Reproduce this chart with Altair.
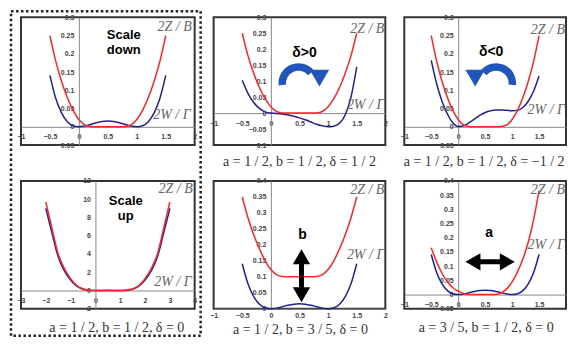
import altair as alt
import pandas as pd

# ---------------- data ----------------
X_A = [-0.5, -0.4, -0.3, -0.2, -0.1, 0.0, 0.1, 0.2, 0.3, 0.4, 0.5,
       0.6, 0.7, 0.8, 0.9, 1.0, 1.1, 1.2, 1.3, 1.4, 1.5]
X_UP = [-2.0, -1.75, -1.5, -1.25, -1.0, -0.75, -0.5, -0.25, 0.0, 0.25, 0.5,
        0.75, 1.0, 1.25, 1.5, 1.75, 2.0, 2.25, 2.5, 2.75, 3.0]

Z_BASE = [0.25, 0.18, 0.125, 0.08, 0.045, 0.02, 0.005, 0.0005, 0.0, 0.0, 0.0,
          0.0, 0.0, 0.0005, 0.005, 0.02, 0.045, 0.08, 0.125, 0.18, 0.25]
W_BASE = [0.141, 0.078, 0.038, 0.014, 0.003, 0.0, 0.002, 0.0064, 0.011, 0.0144, 0.0156,
          0.0144, 0.011, 0.0064, 0.002, 0.0, 0.003, 0.014, 0.038, 0.078, 0.141]
W_DPOS = [0.103, 0.062, 0.033, 0.015, 0.004, 0.0, -0.001, -0.003, -0.006, -0.010, -0.015,
          -0.021, -0.028, -0.035, -0.040, -0.043, -0.041, -0.032, -0.005, 0.05, 0.145]
W_DNEG = [0.182, 0.118, 0.07, 0.035, 0.011, 0.001, 0.003, 0.011, 0.021, 0.031, 0.039,
          0.044, 0.046, 0.046, 0.045, 0.044, 0.045, 0.053, 0.07, 0.098, 0.139]
Z_UP = [9.7, 6.8, 4.0, 2.4, 1.3, 0.55, 0.17, 0.04, 0.0, 0.0, 0.0,
        0.0, 0.0, 0.04, 0.17, 0.55, 1.3, 2.4, 4.0, 6.8, 9.7]
W_UP = [9.0, 6.3, 3.7, 2.15, 1.15, 0.48, 0.14, 0.03, 0.0, 0.01, 0.02,
        0.01, 0.0, 0.03, 0.14, 0.48, 1.15, 2.15, 3.7, 6.3, 9.0]
Z_B = [0.35, 0.285, 0.232, 0.188, 0.15, 0.123, 0.107, 0.101, 0.1, 0.1, 0.1,
       0.1, 0.1, 0.101, 0.107, 0.123, 0.15, 0.188, 0.232, 0.285, 0.35]
Z_A = [0.165, 0.115, 0.075, 0.045, 0.024, 0.012, 0.004, 0.0005, 0.0, 0.0, 0.0,
       0.0, 0.0005, 0.006, 0.02, 0.045, 0.08, 0.125, 0.185, 0.265, 0.366]

XT_A = [-1, -0.5, 0, 0.5, 1, 1.5, 2]
XT_A_CUT = [-1, -0.5, 0, 0.5, 1, 1.5]
XT_UP = [-3, -2, -1, 0, 1, 2, 3, 4]
YT_1 = [-0.05, 0, 0.05, 0.1, 0.15, 0.2, 0.25, 0.3]
YT_2 = [-0.1, -0.05, 0, 0.05, 0.1, 0.15, 0.2, 0.25, 0.3]
YT_UP = [-2, 0, 2, 4, 6, 8, 10, 12]
YT_5 = [0, 0.05, 0.1, 0.15, 0.2, 0.25, 0.3, 0.35, 0.4]
YT_6 = [-0.05, 0, 0.05, 0.1, 0.15, 0.2, 0.25, 0.3, 0.35, 0.4]

LBL_Z = "2Z / B"
LBL_W = "2W / \u0393"
CAP_2 = "a = 1 / 2, b = 1 / 2, \u03b4 = 1 / 2"
CAP_3 = "a = 1 / 2, b = 1 / 2, \u03b4 = \u22121 / 2"
CAP_4 = "a = 1 / 2, b = 1 / 2, \u03b4 = 0"
CAP_5 = "a = 1 / 2, b = 3 / 5, \u03b4 = 0"
CAP_6 = "a = 3 / 5, b = 1 / 2, \u03b4 = 0"

RED = "#ff2424"
BLUE = "#22228c"
ARROW = "#2255bb"

ONE = pd.DataFrame({"k": [0]})


def txt(s, x, y, size=13, font="Liberation Sans", weight="normal", style="normal",
        color="black", align="center"):
    return alt.Chart(pd.DataFrame({"t": [s]})).mark_text(
        font=font, fontSize=size, fontWeight=weight, fontStyle=style, color=color,
        align=align, baseline="middle"
    ).encode(x=alt.value(x), y=alt.value(y), text="t:N")


def serif_lbl(s, x, y):
    return txt(s, x, y, size=14, font="Liberation Serif", style="italic",
               color="#666", align="right")


def caption(s, x, y):
    return txt(s, x, y, size=14, font="Liberation Serif", color="#333")


def tri(shape, x, y, color, size=300):
    return alt.Chart(ONE).mark_point(shape=shape, filled=True, size=size, color=color,
                                     opacity=1, strokeWidth=0).encode(
        x=alt.value(x), y=alt.value(y))


def arc(x, y, t1, t2):
    return alt.Chart(ONE).mark_arc(theta=t1, theta2=t2, radius=20, radius2=12.5,
                                   color=ARROW).encode(x=alt.value(x), y=alt.value(y))


def panel(xs, z, w, xdom, ydom, xt, yt, width, height, extras, xpad=6):
    df = pd.DataFrame({"x": xs, "z": z, "w": w})
    xoff = -width * (0 - xdom[0]) / (xdom[1] - xdom[0])
    yoff = -height * (0 - ydom[0]) / (ydom[1] - ydom[0])
    xenc = alt.X("x:Q", title="", scale=alt.Scale(domain=xdom, nice=False, zero=False),
                 axis=alt.Axis(values=xt, offset=yoff, labelPadding=xpad, format="~g"))
    yscale = alt.Scale(domain=ydom, nice=False, zero=False)
    yaxis = alt.Axis(values=yt, offset=xoff, labelPadding=5, format="~g")
    base = alt.Chart(df)
    blue = base.mark_line(color=BLUE, strokeWidth=1.5, interpolate="monotone").encode(
        x=xenc, y=alt.Y("w:Q", title="", scale=yscale, axis=yaxis))
    red = base.mark_line(color=RED, strokeWidth=1.5, interpolate="monotone").encode(
        x=xenc, y=alt.Y("z:Q", title="", scale=yscale, axis=yaxis))
    return alt.layer(blue, red, *extras).properties(width=width, height=height)


W1, W2, W3, H = 174, 172, 162, 128

frame = alt.Chart(ONE).mark_rect(fillOpacity=0, stroke="#222", strokeWidth=2.5,
                                 strokeDash=[2.5, 2.5]).encode(
    x=alt.value(-10), x2=alt.value(180), y=alt.value(-6), y2=alt.value(319))

p1 = panel(X_A, Z_BASE, W_BASE, [-1, 2], [-0.05, 0.3], XT_A, YT_1, W1, H, [
    txt("Scale", 103, 18, weight="bold"), txt("down", 103, 33, weight="bold"),
    serif_lbl(LBL_Z, 171, 10), serif_lbl(LBL_W, 170, 98), frame])

p2 = panel(X_A, Z_BASE, W_DPOS, [-1, 2], [-0.1, 0.3], XT_A, YT_2, W2, H, [
    txt("\u03b4>0", 91, 36, size=14, weight="bold"),
    arc(85, 66, 4.6, 7.16), tri("triangle-down", 106, 61, ARROW, size=380),
    serif_lbl(LBL_Z, 171, 12), serif_lbl(LBL_W, 171, 88), caption(CAP_2, 86, 145)])

p3 = panel(X_A, Z_BASE, W_DNEG, [-1, 2], [-0.05, 0.3], XT_A_CUT, YT_1, W3, H, [
    txt("\u03b4<0", 87, 35, size=14, weight="bold"),
    arc(92, 66, 5.41, 7.96), tri("triangle-down", 71, 61, ARROW, size=380),
    serif_lbl(LBL_Z, 161, 13), serif_lbl(LBL_W, 161, 93), caption(CAP_3, 80, 145)])

p4 = panel(X_UP, Z_UP, W_UP, [-3, 4], [-2, 12], XT_UP, YT_UP, W1, H, [
    txt("Scale", 105, 20, weight="bold"), txt("up", 105, 35, weight="bold"),
    serif_lbl(LBL_Z, 172, 8), serif_lbl(LBL_W, 171, 101), caption(CAP_4, 96, 147)])

shaft_v = alt.Chart(ONE).mark_rule(strokeWidth=5, color="black").encode(
    x=alt.value(88), y=alt.value(80), y2=alt.value(110))
p5 = panel(X_A, Z_B, W_BASE, [-1, 2], [0, 0.4], XT_A, YT_5, W2, H, [
    txt("b", 89, 54, size=14, weight="bold"), shaft_v,
    tri("triangle-up", 88, 76, "black"), tri("triangle-down", 88, 114, "black"),
    serif_lbl(LBL_Z, 171, 9), serif_lbl(LBL_W, 171, 74), caption(CAP_5, 87, 149)], xpad=3)

shaft_h = alt.Chart(ONE).mark_rule(strokeWidth=5, color="black").encode(
    x=alt.value(70), x2=alt.value(102), y=alt.value(81))
p6 = panel(X_A, Z_A, W_BASE, [-1, 2], [-0.05, 0.4], XT_A_CUT, YT_6, W3, H, [
    txt("a", 85, 52, size=14, weight="bold"), shaft_h,
    tri("triangle-left", 68.8, 81, "black"), tri("triangle-right", 103.2, 81, "black"),
    serif_lbl(LBL_Z, 161, 9), serif_lbl(LBL_W, 161, 64), caption(CAP_6, 82, 147)])

chart = alt.concat(
    p1, p2, p3, p4, p5, p6, columns=3,
    spacing={"row": 36, "column": 19},
    bounds="flush", align="each"
).properties(
    padding=0
).configure_view(
    stroke="#333", strokeWidth=2
).configure_axis(
    labelFont="Liberation Sans", labelFontSize=7, labelFontWeight="bold",
    labelColor="#444", domainColor="#888", domainWidth=1, ticks=False, grid=False,
    labelFlush=False, labelOverlap=False
)

chart.save("out.html", embed_options={"renderer": "svg", "actions": False})
